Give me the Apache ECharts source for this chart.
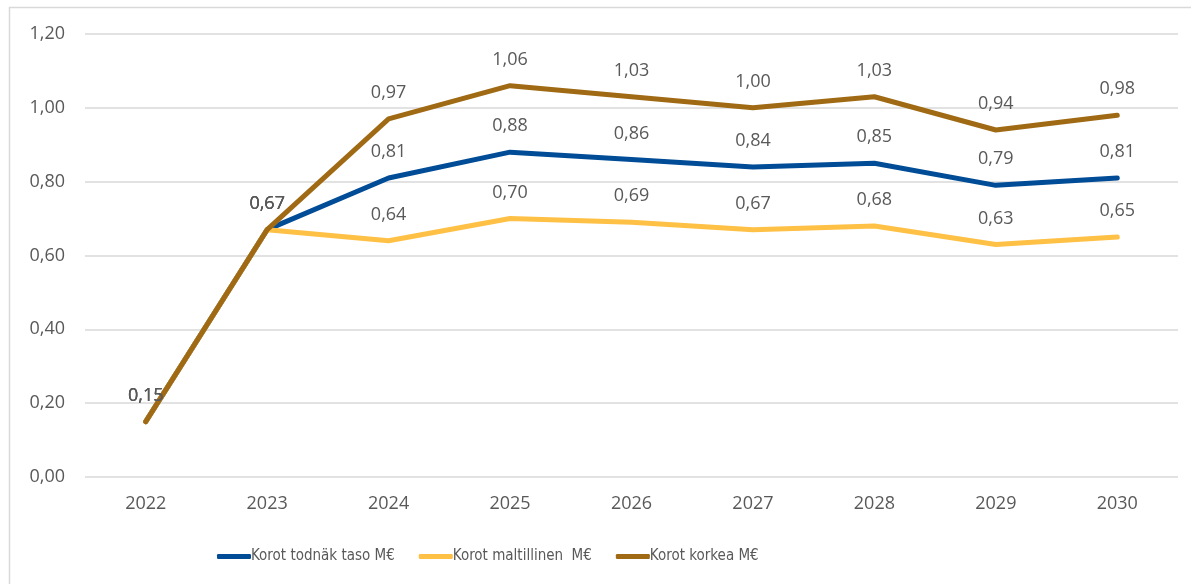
<!DOCTYPE html>
<html>
<head>
<meta charset="utf-8">
<script src="https://cdn.jsdelivr.net/npm/echarts@6/dist/echarts.min.js"></script>
<style>
  html, body { margin: 0; padding: 0; background: #fff; }
  #main { width: 1191px; height: 584px; }
</style>
</head>
<body>
<div id="main"></div>
<script>
var years = ['2022', '2023', '2024', '2025', '2026', '2027', '2028', '2029', '2030'];
var todnak = [0.15, 0.67, 0.81, 0.88, 0.86, 0.84, 0.85, 0.79, 0.81];
var maltillinen = [0.15, 0.67, 0.64, 0.70, 0.69, 0.67, 0.68, 0.63, 0.65];
var korkea = [0.15, 0.67, 0.97, 1.06, 1.03, 1.00, 1.03, 0.94, 0.98];
var seriesNames = ['Korot todnäk taso M€', 'Korot maltillinen  M€', 'Korot korkea M€'];

var myChart = echarts.init(document.getElementById('main'));

function fmt (v) {
  return v.toFixed(2).replace('.', ',');
}

var labelStyle = {
  show: true,
  position: 'top',
  distance: 17,
  fontSize: 18,
  color: '#595959',
  fontFamily: 'Open Sans',
  formatter: function (p) { return fmt(p.value); }
};

function makeSeries (name, data, color) {
  return {
    name: name,
    type: 'line',
    data: data,
    symbol: 'circle',
    symbolSize: 0,
    showAllSymbol: true,
    lineStyle: { width: 5, color: color, cap: 'round', join: 'round' },
    itemStyle: { color: color },
    label: labelStyle,
    labelLayout: { hideOverlap: false }
  };
}

var option = {
  animation: false,
  graphic: [
    {
      type: 'rect',
      shape: { x: 9.5, y: 7.5, width: 1190, height: 600 },
      style: { fill: 'none', stroke: '#d9d9d9', lineWidth: 1.5 }
    }
  ],
  grid: { left: 85, right: 13, top: 34, bottom: 107 },
  legend: {
    bottom: 15,
    left: 212,
    itemWidth: 34,
    itemHeight: 5,
    itemGap: 24,
    icon: 'roundRect',
    textStyle: { fontSize: 15, color: '#595959', fontFamily: '"DejaVu Sans Condensed", Roboto, sans-serif', padding: [0, 0, 0, -5] },
    data: seriesNames
  },
  xAxis: {
    type: 'category',
    data: years,
    axisLine: { show: false },
    axisTick: { show: false },
    axisLabel: { fontSize: 18, color: '#595959', fontFamily: 'Open Sans', margin: 18 }
  },
  yAxis: {
    type: 'value',
    min: 0,
    max: 1.2,
    interval: 0.2,
    axisLabel: {
      fontSize: 18, color: '#595959', fontFamily: 'Open Sans', margin: 20,
      formatter: function (v) { return fmt(v); }
    },
    splitLine: { lineStyle: { color: '#d9d9d9', width: 1.5 } }
  },
  series: [
    makeSeries(seriesNames[0], todnak, '#004c97'),
    makeSeries(seriesNames[1], maltillinen, '#ffc046'),
    makeSeries(seriesNames[2], korkea, '#a06a14')
  ]
};

myChart.setOption(option);
</script>
</body>
</html>
